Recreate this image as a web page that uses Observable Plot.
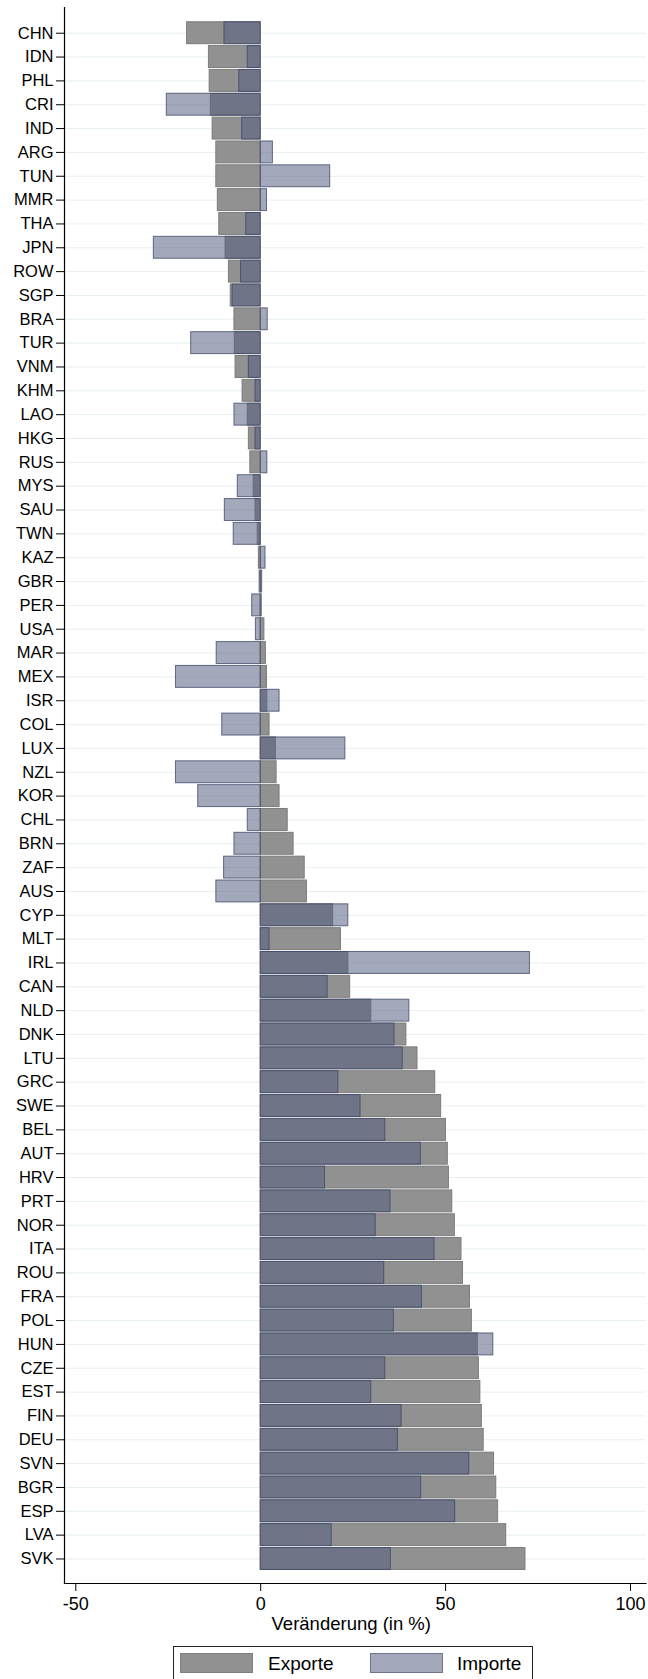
<!DOCTYPE html>
<html><head><meta charset="utf-8">
<script src="https://cdn.jsdelivr.net/npm/d3@7"></script>
<script src="https://cdn.jsdelivr.net/npm/@observablehq/plot@0.6"></script>
<style>
html,body{margin:0;padding:0;background:#fff;overflow:hidden;}
body{font-family:"Liberation Sans",Arial,sans-serif;color:#000;}
#chart svg{display:block;}
#legend{position:relative;width:648px;height:35px;}
#legend .box{position:absolute;left:173px;top:2px;width:360px;height:40px;border:1px solid #222;box-sizing:border-box;}
#legend .sw{position:absolute;top:6px;width:73px;height:20px;box-sizing:border-box;}
#legend .lt{position:absolute;top:7.4px;font-size:19px;line-height:1;white-space:nowrap;}
</style></head><body>
<div id="chart"></div>
<div id="legend"></div>
<script>
const countries = ["CHN","IDN","PHL","CRI","IND","ARG","TUN","MMR","THA","JPN","ROW","SGP","BRA","TUR","VNM","KHM","LAO","HKG","RUS","MYS","SAU","TWN","KAZ","GBR","PER","USA","MAR","MEX","ISR","COL","LUX","NZL","KOR","CHL","BRN","ZAF","AUS","CYP","MLT","IRL","CAN","NLD","DNK","LTU","GRC","SWE","BEL","AUT","HRV","PRT","NOR","ITA","ROU","FRA","POL","HUN","CZE","EST","FIN","DEU","SVN","BGR","ESP","LVA","SVK"];
const exporte = [-19.9,-14.0,-13.8,-13.5,-13.0,-12.0,-12.0,-11.6,-11.2,-9.5,-8.6,-8.1,-7.1,-7.0,-6.8,-4.9,-3.5,-3.2,-2.8,-1.9,-1.4,-0.8,-0.5,-0.3,0.3,1.0,1.4,1.7,1.8,2.4,4.1,4.3,5.1,7.3,8.9,11.9,12.5,19.6,21.7,23.7,24.2,29.9,39.4,42.4,47.2,48.8,50.1,50.6,50.9,51.8,52.5,54.3,54.7,56.6,57.1,58.7,59.0,59.4,59.8,60.3,63.1,63.7,64.2,66.4,71.6];
const importe = [-9.8,-3.5,-5.8,-25.4,-5.0,3.3,18.8,1.7,-3.9,-28.9,-5.3,-7.6,1.9,-18.8,-3.2,-1.4,-7.1,-1.4,1.8,-6.2,-9.7,-7.3,1.3,0.4,-2.3,-1.3,-11.9,-22.9,5.1,-10.4,22.9,-22.9,-16.9,-3.5,-7.1,-9.9,-12.0,23.7,2.4,72.8,18.1,40.2,36.2,38.4,21.0,27.0,33.7,43.3,17.4,35.1,31.1,47.0,33.4,43.6,36.0,62.9,33.7,29.9,38.1,37.1,56.4,43.4,52.6,19.2,35.2];
const xTicks = [-50, 0, 50, 100];
const xTitle = "Veränderung (in %)";
const legendLabels = ["Exporte", "Importe"];

const exportFill = "#919191", exportStroke = "#7c7c7c";
const importFill = "rgb(81,93,127)", importStroke = "rgb(58,68,102)";

const rows = countries.map((c, i) => ({country: c, exp: exporte[i], imp: importe[i]}));

const chart = Plot.plot({
  width: 648,
  height: 1644,
  marginTop: 7,
  marginLeft: 64,
  marginRight: 2.5,
  marginBottom: 61,
  style: {fontFamily: "'Liberation Sans', Arial, sans-serif", color: "#000", background: "#fff", overflow: "visible"},
  x: {domain: [-50, 100], insetLeft: 11.3, insetRight: 15.5},
  y: {domain: countries, insetTop: 13.8, insetBottom: 12.6, paddingInner: 0.08, paddingOuter: 0.04},
  marks: [
    Plot.gridY({stroke: "#e6eff2", strokeOpacity: 1, strokeWidth: 1}),
    Plot.barX(rows, {y: "country", x: "exp", fill: exportFill, stroke: exportStroke, strokeWidth: 1}),
    Plot.barX(rows, {y: "country", x: "imp", fill: importFill, fillOpacity: 0.53, stroke: importStroke, strokeOpacity: 0.75, strokeWidth: 1}),
    Plot.axisY({tickSize: 8, tickPadding: 3, fontSize: 16.5, label: null}),
    Plot.axisX({ticks: xTicks, tickSize: 8, tickPadding: 6, fontSize: 18, label: null, tickFormat: d => String(d)}),
    Plot.frame({anchor: "left", stroke: "#000", strokeWidth: 1.2}),
    Plot.frame({anchor: "bottom", stroke: "#000", strokeWidth: 1.2}),
    Plot.text([xTitle], {frameAnchor: "bottom", text: d => d, dy: 41, dx: -4, fontSize: 18.5, lineAnchor: "middle", fill: "#000"})
  ]
});
document.getElementById("chart").append(chart);

const lg = document.getElementById("legend");
const box = document.createElement("div");
box.className = "box";
const items = [
  {label: legendLabels[0], sw: 6, tx: 94, bg: exportFill, bd: "#7f7f7f"},
  {label: legendLabels[1], sw: 196, tx: 283, bg: "rgb(163,169,187)", bd: "rgb(110,118,145)"}
];
for (const it of items) {
  const s = document.createElement("div");
  s.className = "sw";
  s.style.left = it.sw + "px";
  s.style.background = it.bg;
  s.style.border = "1px solid " + it.bd;
  box.append(s);
  const t = document.createElement("div");
  t.className = "lt";
  t.style.left = it.tx + "px";
  t.textContent = it.label;
  box.append(t);
}
lg.append(box);
</script>
</body></html>
